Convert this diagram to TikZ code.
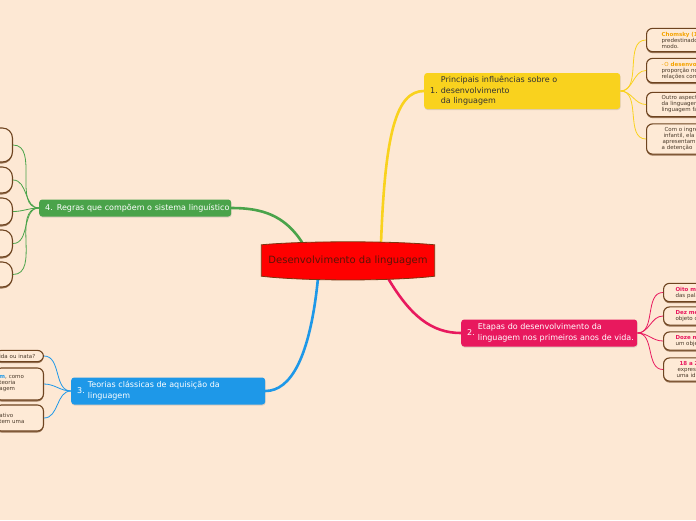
\documentclass[tikz,border=0pt]{standalone}
\usepackage{fontspec}
\setmainfont{DejaVu Sans}
\usetikzlibrary{positioning,calc,shadows}
\definecolor{bgpeach}{HTML}{FDE8D4}
\definecolor{leaffill}{HTML}{FEEAD6}
\definecolor{leafline}{HTML}{6E4420}
\definecolor{leaftext}{HTML}{4A3A2A}
\definecolor{cyellow}{HTML}{F9D21E}
\definecolor{ccrimson}{HTML}{E8195E}
\definecolor{cblue}{HTML}{1E98E8}
\definecolor{cgreen}{HTML}{4AA34A}
\definecolor{corange}{HTML}{F5A300}
\definecolor{cred}{HTML}{FF0000}
\definecolor{credline}{HTML}{7A3510}
\definecolor{credtext}{HTML}{5A1508}
\tikzset{
  topic/.style={rounded corners=3pt, text width=#1, align=left, inner xsep=6pt,
    inner ysep=2pt, font=\fontsize{8}{10.5}\selectfont,
    drop shadow={shadow xshift=0.4pt, shadow yshift=-1pt, opacity=0.25}},
  leaf/.style={draw=leafline, line width=1.1pt, fill=leaffill, rounded corners=6pt,
    align=left, text=leaftext, font=\fontsize{5.5}{6}\selectfont, inner ysep=3.5pt,
    drop shadow={shadow xshift=0pt, shadow yshift=-1.5pt, fill=leafline, opacity=0.7}},
  rleaf/.style={leaf, anchor=west, text width=60pt, inner xsep=#1},
  lleaf/.style={leaf, anchor=east, text width=40pt, inner xsep=4pt},
  trunk/.style={line width=2.6pt, line cap=round},
  twig/.style={line width=0.8pt},
  centext/.style={font=\fontsize{10}{12}\selectfont, text=credtext, inner sep=0pt},
}
\begin{document}
\begin{tikzpicture}[x=1pt, y=1pt]
  \useasboundingbox (0,0) rectangle (696,-520);
  \clip (0,0) rectangle (696,-520);
  \fill[bgpeach] (0,0) rectangle (696,-520);

  % central topic and main branches
  \node[minimum width=173pt, minimum height=34pt, inner sep=0pt] (cen) at (348,-261) {};
  \node[topic=184pt, fill=cyellow, text=black!80, minimum height=36pt, anchor=west] (infl) at (424,-91)
    {\mbox{1.\hspace{3pt}\begin{tabular}{@{}l@{}}Principais influências sobre o\\desenvolvimento\\da linguagem\end{tabular}}};
  \node[topic=164pt, fill=ccrimson, text=white, minimum height=27pt, anchor=west] (etap) at (461,-333)
    {\mbox{2.\hspace{3pt}\begin{tabular}{@{}l@{}}Etapas do desenvolvimento da\\linguagem nos primeiros anos de vida.\end{tabular}}};
  \node[topic=182pt, fill=cblue, text=white, minimum height=27pt, anchor=west] (teor) at (71,-391)
    {\mbox{3.\hspace{3pt}\begin{tabular}{@{}l@{}}Teorias clássicas de aquisição da\\linguagem\end{tabular}}};
  \node[topic=180pt, fill=cgreen, text=white, minimum height=17pt, anchor=west] (regr) at (39,-208)
    {\mbox{4. Regras que compõem o sistema linguístico}};

  \draw[trunk, cyellow] ($(cen.north)+(33,0)$) .. controls ($(cen.north)+(37,110)$) and ($(infl.west)+(-28,0)$) .. (infl.west);
  \draw[trunk, ccrimson] ($(cen.south)+(40,0)$) .. controls ($(cen.south)+(62,-37)$) and ($(etap.west)+(-30,0)$) .. (etap.west);
  \draw[trunk, cblue] ($(cen.south)+(-30,0)$) .. controls ($(cen.south)+(-38,-80)$) and ($(teor.east)+(25,0)$) .. (teor.east);
  \draw[trunk, cgreen] ($(cen.north)+(-45,0)$) .. controls ($(cen.north)+(-63,29)$) and ($(regr.east)+(30,0)$) .. (regr.east);

  \filldraw[fill=cred, draw=credline, line width=0.8pt]
    ($(cen.north west)+(0,-1)$) .. controls ($(cen.north)+(-45,3)$) and ($(cen.north)+(45,3)$) .. ($(cen.north east)+(0,-1)$)
    -- ($(cen.south east)+(0,2)$) .. controls ($(cen.south)+(45,-3)$) and ($(cen.south)+(-45,-3)$) .. ($(cen.south west)+(0,2)$)
    -- cycle;
  \node[centext] (centitle) at (cen) {Desenvolvimento da linguagem};

  % leaves of 1
  \node[rleaf=15pt] (infl1) at (646,-40) {\textcolor{corange}{\textbf{Chomsky (1}}\\predestinado\\modo.};
  \node[rleaf=15pt] (infl2) at (646,-70.5) {\textcolor{corange}{-\,O \textbf{desenvo}}\\proporção no\\relações com};
  \node[rleaf=15pt] (infl3) at (646,-104.5) {Outro aspect\\da linguagem\\linguagem fa};
  \node[rleaf=15pt] (infl4) at (646,-139) {\hspace*{3pt}Com o ingre\\\hspace*{2pt}infantil, ela\\\hspace*{1pt}apresentam\\a detenção};
  \foreach \i in {1,...,4}
    \draw[twig, cyellow] (infl.east) to[out=0, in=180] (infl\i.west);

  % leaves of 2
  \node[rleaf=12pt] (etap1) at (663,-292.5) {\textcolor{ccrimson}{\textbf{Oito me}}\\das pala};
  \node[rleaf=12pt] (etap2) at (663,-316) {\textcolor{ccrimson}{\textbf{Dez me}}\\objeto c};
  \node[rleaf=12pt] (etap3) at (663,-341) {\textcolor{ccrimson}{\textbf{Doze m}}\\um obje};
  \node[rleaf=12pt] (etap4) at (663,-369.5) {\hspace*{4pt}\textcolor{ccrimson}{\textbf{18 a 2}}\\\hspace*{2pt}expres\\\hspace*{1pt}uma id};
  \foreach \i in {1,...,4}
    \draw[twig, ccrimson] (etap.east) to[out=0, in=180] (etap\i.west);

  % leaves of 3
  \node[lleaf] (teor1) at (44,-356) {ida ou inata?};
  \node[lleaf, minimum height=32pt] (teor2) at (44,-384) {\textcolor{cblue}{\textbf{m}}, como\\teoria\\agem};
  \node[lleaf, minimum height=26pt] (teor3) at (44,-418) {ativo\\tem uma};
  \foreach \i in {1,...,3}
    \draw[twig, cblue] (teor.west) to[out=180, in=0] (teor\i.east);

  % leaves of 4
  \foreach \y/\h [count=\i] in {145/34pt, 180/26pt, 211.5/27pt, 243.5/27pt, 274.5/25pt} {
    \node[leaf, rounded corners=10pt, anchor=east, minimum width=40pt, minimum height=\h] (regr\i) at (13,-\y) {};
    \draw[twig, cgreen] (regr.west) to[out=180, in=0] (regr\i.east);
  }
\end{tikzpicture}
\end{document}
